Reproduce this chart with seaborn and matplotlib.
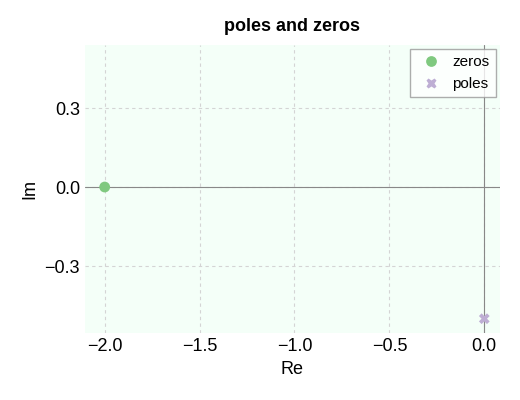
import matplotlib
matplotlib.use('Agg')
import matplotlib.pyplot as plt
import seaborn as sns
import pandas as pd

zeros_re = [-2.0]
zeros_im = [0.0]
poles_re = [0.0]
poles_im = [-0.5]

df = pd.DataFrame({
    'Re': zeros_re + poles_re,
    'Im': zeros_im + poles_im,
    'kind': ['zeros'] * len(zeros_re) + ['poles'] * len(poles_re),
})

sns.set_style('white')
plt.rcParams['font.family'] = ['Liberation Sans', 'DejaVu Sans']
plt.rcParams['text.color'] = 'black'
plt.rcParams['axes.labelcolor'] = 'black'
plt.rcParams['xtick.color'] = 'black'
plt.rcParams['ytick.color'] = 'black'

fig, ax = plt.subplots(figsize=(5.2, 4.0), dpi=100)
fig.subplots_adjust(left=0.163, right=0.962, top=0.888, bottom=0.167)
ax.set_facecolor('#f4fff8')
for s in ax.spines.values():
    s.set_visible(False)

ax.axhline(0, color='#888888', lw=0.8, zorder=1)
ax.axvline(0, color='#888888', lw=0.8, zorder=1)

sns.scatterplot(data=df, x='Re', y='Im', hue='kind', style='kind',
                palette={'zeros': '#7fc97f', 'poles': '#beaed4'},
                markers={'zeros': 'o', 'poles': 'X'}, s=60, edgecolor='none',
                ax=ax, zorder=3)

ax.set_xlim(-2.105, 0.084)
ax.set_ylim(-0.555, 0.54)
ax.set_xticks([-2.0, -1.5, -1.0, -0.5, 0.0])
ax.set_yticks([-0.3, 0.0, 0.3])
fmt = matplotlib.ticker.FuncFormatter(lambda v, p: f'{v:.1f}'.replace('-', '\u2212'))
ax.xaxis.set_major_formatter(fmt)
ax.yaxis.set_major_formatter(fmt)
ax.grid(True, ls=(0, (3, 3)), color='#d4d4d4', lw=0.8)
ax.tick_params(labelsize=13, length=0)
ax.set_xlabel('Re', fontsize=13)
ax.set_ylabel('Im', fontsize=13)
ax.set_title('poles and zeros', fontsize=13, fontweight='bold', pad=10)

leg = ax.legend(title=None, loc='upper right', fontsize=11, frameon=True,
                fancybox=False, edgecolor='#999999', handletextpad=0.4,
                borderaxespad=0.3, labelspacing=0.5)
leg.get_frame().set_linewidth(1)

fig.savefig('out.png')
